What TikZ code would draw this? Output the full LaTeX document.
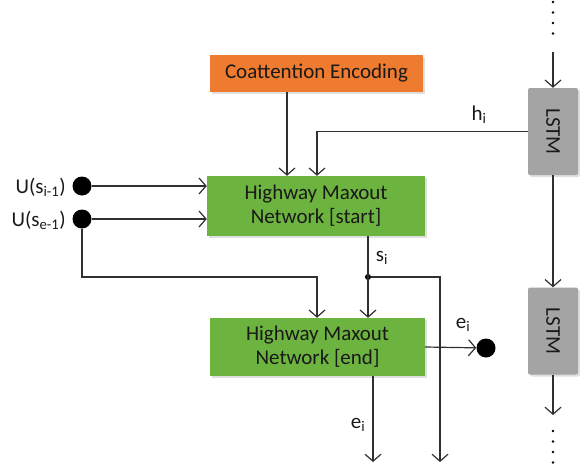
\documentclass[tikz,border=0pt]{standalone}
\usepackage{fontspec}
\setmainfont{Carlito}
\usetikzlibrary{arrows.meta,shadows}
\definecolor{orng}{HTML}{EE7B2F}
\definecolor{grn}{HTML}{6DB33F}
\definecolor{gry}{HTML}{A4A4A4}
\definecolor{ln}{HTML}{303030}
\begin{document}
\begin{tikzpicture}[x=1pt,y=-1pt,
  box/.style={draw=none, align=center, font=\fontsize{21}{24}\selectfont, text=black!90,
    drop shadow={opacity=0.25, shadow xshift=2pt, shadow yshift=-2pt}},
  obox/.style={box, fill=orng, minimum width=213pt, minimum height=37pt},
  gbox/.style={box, fill=grn},
  lbox/.style={box, fill=gry, minimum width=50pt, minimum height=87pt, rounded corners=2pt},
  arr/.style={draw=ln, line width=1.2pt, -{Straight Barb[length=7pt,width=16pt,line width=1.2pt]}},
  dot/.style={circle, fill=black, inner sep=0pt, minimum size=19pt},
  lab/.style={font=\fontsize{21}{24}\selectfont, text=black!90, inner sep=0pt},
]
\useasboundingbox (0,0) rectangle (580,474);
% boxes
\node[obox] (coat) at (316.5,73.5) {Coattention Encoding};
\node[gbox, minimum width=218pt, minimum height=60pt] (start) at (316,206) {Highway Maxout\\Network [start]};
\node[gbox, minimum width=215pt, minimum height=58pt] (end) at (317.5,347) {Highway Maxout\\Network [end]};
\node[lbox] (l1) at (553,131.5) {\rotatebox{-90}{LSTM}};
\node[lbox] (l2) at (553,331) {\rotatebox{-90}{LSTM}};
% dots
\node[dot] (u1) at (82,186) {};
\node[dot] (u2) at (82,219) {};
\node[dot] (eo) at (486,348) {};
\node[circle, fill=black, inner sep=0pt, minimum size=6pt] (j) at (368,277) {};
% labels
\node[lab, anchor=east] (lu1) at (66,187) {U(s\textsubscript{i-1})};
\node[lab, anchor=east] (lu2) at (66,220) {U(s\textsubscript{e-1})};
\node[lab] (lh) at (479,115) {h\textsubscript{i}};
\node[lab] (ls) at (382,258) {s\textsubscript{i}};
\node[lab] (le1) at (463,325) {e\textsubscript{i}};
\node[lab] (le2) at (358,425) {e\textsubscript{i}};
% helper coordinates
\coordinate (cx) at (287,0);
\coordinate (hx) at (317,0);
\coordinate (ex) at (317,0);
\coordinate (sx) at (368,0);
\coordinate (row) at (0,277);
\coordinate (o1) at (373,462);
\coordinate (o2) at (440,462);
\coordinate (ltop) at (553,52);
\coordinate (lbot) at (553,415);
% connectors
\draw[arr] (coat.south -| cx) -- (start.north -| cx);
\draw[arr] (l1.west) -| (start.north -| hx);
\draw[arr] (u1) -- (start.west |- u1);
\draw[arr] (u2) -- (start.west |- u2);
\draw[arr] (u2) -- (u2 |- row) -| (end.north -| ex);
\draw[arr] (start.south -| sx) -- (end.north -| sx);
\draw[arr] (j) -| (o2);
\draw[arr] (end.south -| o1) -- (o1);
\draw[arr] (end.east) -- (eo);
\draw[arr] (ltop) -- (l1.north);
\draw[arr] (l1.south) -- (l2.north);
\draw[arr] (l2.south) -- (lbot);
% vertical ellipses
\foreach \y in {2,12.5,23,33.5} \fill (553,\y) circle (1.3pt);
\foreach \y in {431,441.5,452,462.5} \fill (553,\y) circle (1.3pt);
\end{tikzpicture}
\end{document}
